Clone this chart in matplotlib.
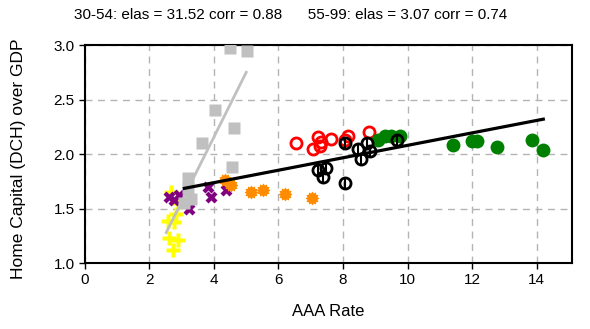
import matplotlib
matplotlib.use("Agg")
import matplotlib.pyplot as plt
from matplotlib.path import Path

plt.rcParams['font.family'] = ['Liberation Sans', 'DejaVu Sans']

# AAA rate (x) vs home capital / GDP (y), grouped by period
yellow_x = [2.67, 2.83, 2.57, 2.77, 2.62, 2.88, 2.72, 2.90]
yellow_y = [1.65, 1.45, 1.39, 1.38, 1.23, 1.21, 1.12, 1.55]

purple_x = [2.60, 2.93, 3.23, 3.10, 3.81, 3.91, 4.38, 2.75]
purple_y = [1.61, 1.62, 1.50, 1.55, 1.70, 1.61, 1.67, 1.58]

gray_x = [4.51, 5.03, 4.04, 4.61, 3.62, 4.57, 3.19, 3.21, 3.29, 3.08]
gray_y = [2.97, 2.95, 2.40, 2.24, 2.10, 1.88, 1.78, 1.69, 1.59, 1.55]

orange_x = [4.33, 4.53, 5.16, 5.52, 6.19, 7.05]
orange_y = [1.76, 1.72, 1.65, 1.67, 1.63, 1.60]

red_x = [6.55, 7.07, 7.22, 7.33, 7.28, 7.64, 8.05, 8.16, 8.81]
red_y = [2.10, 2.05, 2.16, 2.11, 2.07, 2.14, 2.13, 2.17, 2.20]

green_x = [9.09, 9.30, 9.50, 9.76, 11.42, 11.99, 12.14, 12.76, 13.85, 14.21]
green_y = [2.13, 2.17, 2.17, 2.17, 2.08, 2.12, 2.12, 2.06, 2.13, 2.04]

black_x = [8.05, 8.47, 8.75, 8.83, 8.57, 7.22, 7.48, 7.38, 8.05, 9.66]
black_y = [2.10, 2.05, 2.10, 2.03, 1.95, 1.85, 1.87, 1.79, 1.73, 2.13]

# Fitted lines for the two periods (endpoints)
fit_30_54_x = [2.52, 5.00]
fit_30_54_y = [1.28, 2.75]
fit_55_99_x = [3.08, 14.21]
fit_55_99_y = [1.685, 2.32]

title_text = "30-54: elas = 31.52 corr = 0.88      55-99: elas = 3.07 corr = 0.74"
x_ticks = [0, 2, 4, 6, 8, 10, 12, 14]
y_ticks = [1.0, 1.5, 2.0, 2.5, 3.0]

fig = plt.figure(figsize=(5.9, 3.29), dpi=100)
ax = fig.add_axes([0.144, 0.2006, 0.8255, 0.6624])

sun = Path.unit_regular_star(12, 0.75)

ax.plot(yellow_x, yellow_y, ls='none', marker='P', ms=10, color='#FFFF00', mec='none', zorder=3)
ax.plot(purple_x, purple_y, ls='none', marker='X', ms=9, color='#800080', mec='none', zorder=3)
ax.plot(gray_x, gray_y, ls='none', marker='s', ms=8, color='#C0C0C0', mec='none', zorder=3)
ax.plot(orange_x, orange_y, ls='none', marker=sun, ms=10, color='#FF8C00', mec='none', zorder=3)
ax.plot(red_x, red_y, ls='none', marker='o', ms=8, mfc='none', mec='#FF0000', mew=2, zorder=3)
ax.plot(green_x, green_y, ls='none', marker='o', ms=10, color='#008000', mec='none', zorder=3)
ax.plot(black_x, black_y, ls='none', marker='o', ms=8, mfc='none', mec='black', mew=2, zorder=3)
ax.plot(black_x, black_y, ls='none', marker='|', ms=8, mec='black', mew=1.5, zorder=3)

ax.plot(fit_30_54_x, fit_30_54_y, color='#C0C0C0', lw=2, zorder=4)
ax.plot(fit_55_99_x, fit_55_99_y, color='black', lw=2.3, zorder=4)

ax.set_xlim(0, 15.1)
ax.set_ylim(1.0, 3.0)
ax.set_xticks(x_ticks)
ax.set_yticks(y_ticks)
ax.set_yticklabels([f"{v:.1f}" for v in y_ticks])
ax.tick_params(direction='out', length=4, width=1, labelsize=11, colors='black')
ax.grid(True, color='#b4b4b4', ls=(0, (5, 4)), lw=1)
ax.set_axisbelow(True)
for s in ax.spines.values():
    s.set_linewidth(1.5)

ax.set_xlabel("AAA Rate", fontsize=12, labelpad=12)
ax.set_ylabel("Home Capital (DCH) over GDP", fontsize=12.5)
ax.yaxis.set_label_coords(-0.122, 0.48)
fig.text(0.493, 0.955, title_text, ha='center', va='center', fontsize=11)

fig.savefig("out.png", dpi=100)
